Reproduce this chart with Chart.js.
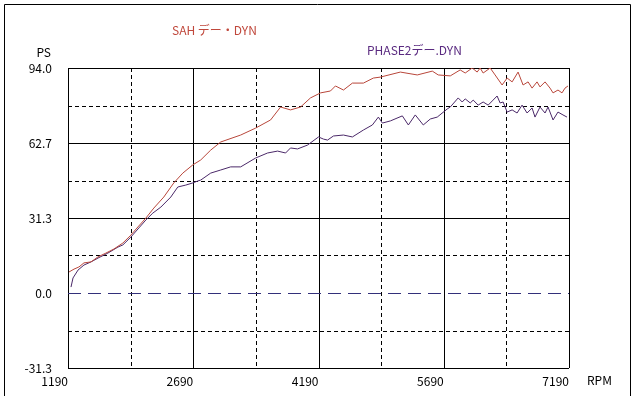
<!DOCTYPE html>
<html>
<head>
<meta charset="utf-8">
<script src="https://cdn.jsdelivr.net/npm/chart.js@4"></script>
<style>
  body { margin: 0; background: #fff; }
</style>
</head>
<body>
<canvas id="myChart" width="640" height="396"></canvas>
<script>
const ctx = document.getElementById("myChart");

// SAH run
const sahRpm = [1202, 1262, 1321, 1381, 1465, 1549, 1644, 1740, 1847, 1943, 2027, 2122, 2218, 2337, 2457, 2565, 2684, 2780, 2899, 3019, 3258, 3437, 3616, 3736, 3855, 3975, 4094, 4214, 4333, 4393, 4489, 4596, 4728, 4847, 4931, 5170, 5373, 5553, 5624, 5768, 5887, 5947, 6031, 6090, 6126, 6162, 6246, 6305, 6389, 6449, 6509, 6580, 6640, 6700, 6748, 6807, 6843, 6903, 6963, 6999, 7058, 7106, 7142, 7178];
const sahPs = [8.8, 10.0, 10.9, 12.6, 13.0, 15.1, 16.7, 18.4, 20.9, 24.2, 27.6, 31.3, 35.5, 40.1, 46.0, 50.1, 53.5, 55.6, 59.7, 63.1, 66.0, 68.9, 72.3, 77.7, 76.5, 77.7, 81.5, 83.6, 84.4, 86.5, 84.8, 87.7, 87.7, 89.8, 90.2, 92.3, 91.1, 92.7, 91.1, 90.7, 93.2, 91.9, 94.0, 92.3, 94.0, 91.9, 94.0, 91.1, 86.9, 89.8, 88.2, 92.3, 86.9, 88.2, 85.6, 88.2, 86.1, 88.2, 85.6, 83.6, 84.8, 83.6, 85.6, 86.5];

// PHASE2 run
const phaseRpm = [1226, 1250, 1310, 1381, 1465, 1549, 1668, 1788, 1847, 1943, 2039, 2122, 2206, 2302, 2421, 2505, 2600, 2684, 2744, 2780, 2899, 3019, 3138, 3258, 3437, 3580, 3700, 3796, 3855, 3939, 4058, 4190, 4250, 4298, 4369, 4489, 4596, 4728, 4835, 4907, 4955, 5051, 5194, 5266, 5349, 5445, 5529, 5612, 5732, 5768, 5863, 5911, 5947, 6007, 6043, 6102, 6162, 6222, 6281, 6329, 6365, 6401, 6449, 6509, 6568, 6628, 6688, 6748, 6783, 6843, 6903, 6939, 6999, 7058, 7118, 7166];
const phasePs = [2.5, 6.3, 9.6, 11.7, 13.0, 14.6, 16.7, 19.2, 20.1, 23.4, 27.2, 30.5, 33.4, 35.9, 40.1, 44.3, 45.1, 46.0, 46.8, 47.2, 50.1, 51.4, 52.7, 52.7, 56.4, 58.5, 59.3, 58.5, 60.6, 60.2, 61.8, 65.2, 64.3, 63.9, 65.6, 66.0, 65.2, 68.1, 70.2, 73.5, 71.0, 71.9, 74.0, 70.2, 74.4, 70.2, 72.7, 73.5, 76.9, 77.7, 81.5, 79.8, 81.1, 79.4, 80.6, 78.5, 79.8, 78.5, 80.6, 82.3, 79.4, 79.8, 75.6, 76.5, 75.2, 78.5, 75.2, 77.3, 73.5, 77.7, 75.2, 77.7, 72.3, 75.6, 74.4, 73.5];

// axis ticks
const rpmTicks = [1190, 2690, 4190, 5690, 7190];
const rpmMinor = [1940, 3440, 4940, 6440];
const psTicks = [-31.3, 0.0, 31.3, 62.7, 94.0];
const psMinor = [-15.7, 15.7, 47.0, 78.3];

const FONT = "'Noto Sans CJK JP', 'DejaVu Sans', sans-serif";

function toPoints(xs, ys) {
  return xs.map((x, i) => ({ x: x, y: ys[i] }));
}

// grid, zero line, frame and captions
const dynoFrame = {
  id: "dynoFrame",
  beforeDatasetsDraw(chart) {
    const c = chart.ctx;
    const a = chart.chartArea;
    const xs = chart.scales.x;
    const ys = chart.scales.y;
    c.save();
    c.strokeStyle = "#000";
    c.lineWidth = 1;

    // dashed minor grid
    c.setLineDash([4, 3]);
    c.beginPath();
    rpmMinor.forEach((v) => {
      const px = Math.round(xs.getPixelForValue(v)) + 0.5;
      c.moveTo(px, a.top);
      c.lineTo(px, a.bottom);
    });
    psMinor.forEach((v) => {
      const py = Math.round(ys.getPixelForValue(v)) + 0.5;
      c.moveTo(a.left, py);
      c.lineTo(a.right, py);
    });
    c.stroke();

    // solid major grid
    c.setLineDash([]);
    c.beginPath();
    rpmTicks.forEach((v) => {
      const px = Math.round(xs.getPixelForValue(v)) + 0.5;
      c.moveTo(px, a.top);
      c.lineTo(px, a.bottom);
    });
    psTicks.forEach((v) => {
      if (v === 0) return;
      const py = Math.round(ys.getPixelForValue(v)) + 0.5;
      c.moveTo(a.left, py);
      c.lineTo(a.right, py);
    });
    c.stroke();

    // zero line
    c.strokeStyle = "#33307a";
    c.setLineDash([13, 7]);
    c.beginPath();
    const zy = Math.round(ys.getPixelForValue(0)) + 0.5;
    c.moveTo(a.left, zy);
    c.lineTo(a.right, zy);
    c.stroke();
    c.restore();
  },
  afterDraw(chart) {
    const c = chart.ctx;
    c.save();
    // outer frame
    c.strokeStyle = "#000";
    c.lineWidth = 1;
    c.beginPath();
    c.moveTo(4.5, 396);
    c.lineTo(4.5, 4.5);
    c.lineTo(630.5, 4.5);
    c.lineTo(630.5, 396);
    c.stroke();

    c.font = "12px " + FONT;
    c.textBaseline = "middle";
    c.fillStyle = "#c0483c";
    c.textAlign = "left";
    c.fillText("SAH デー・DYN", 172, 30);
    c.fillStyle = "#5a2a80";
    c.fillText("PHASE2デー.DYN", 367, 50);
    c.fillStyle = "#000";
    c.fillText("RPM", 587, 380);
    c.textAlign = "right";
    c.fillText("PS", 51, 52);
    c.restore();
  },
};

const myChart = new Chart(ctx, {
  type: "line",
  data: {
    datasets: [
      {
        label: "SAH デー・DYN",
        data: toPoints(sahRpm, sahPs),
        borderColor: "#b8463a",
        borderWidth: 1,
        pointRadius: 0,
        tension: 0,
      },
      {
        label: "PHASE2デー.DYN",
        data: toPoints(phaseRpm, phasePs),
        borderColor: "#4a2868",
        borderWidth: 1,
        pointRadius: 0,
        tension: 0,
      },
    ],
  },
  options: {
    responsive: false,
    animation: false,
    devicePixelRatio: 1,
    layout: { padding: { left: 0, right: 71, top: 68, bottom: 0 } },
    plugins: {
      legend: { display: false },
      tooltip: { enabled: false },
    },
    scales: {
      x: {
        type: "linear",
        min: 1190,
        max: 7190,
        afterBuildTicks: (s) => { s.ticks = rpmTicks.map((v) => ({ value: v })); },
        afterFit: (s) => { s.height = 28; },
        grid: { display: false, drawTicks: false, tickLength: 0 },
        border: { display: false },
        ticks: {
          align: "end",
          padding: 6,
          maxRotation: 0,
          autoSkip: false,
          color: "#000",
          font: { family: FONT, size: 12 },
          callback: (v) => String(v),
        },
      },
      y: {
        type: "linear",
        min: -31.3,
        max: 94.0,
        afterBuildTicks: (s) => { s.ticks = psTicks.map((v) => ({ value: v })); },
        afterFit: (s) => { s.width = 68; },
        grid: { display: false, drawTicks: false, tickLength: 0 },
        border: { display: false },
        ticks: {
          padding: 16,
          autoSkip: false,
          color: "#000",
          font: { family: FONT, size: 12 },
          callback: (v) => v.toFixed(1),
        },
      },
    },
  },
  plugins: [dynoFrame],
});
</script>
</body>
</html>
